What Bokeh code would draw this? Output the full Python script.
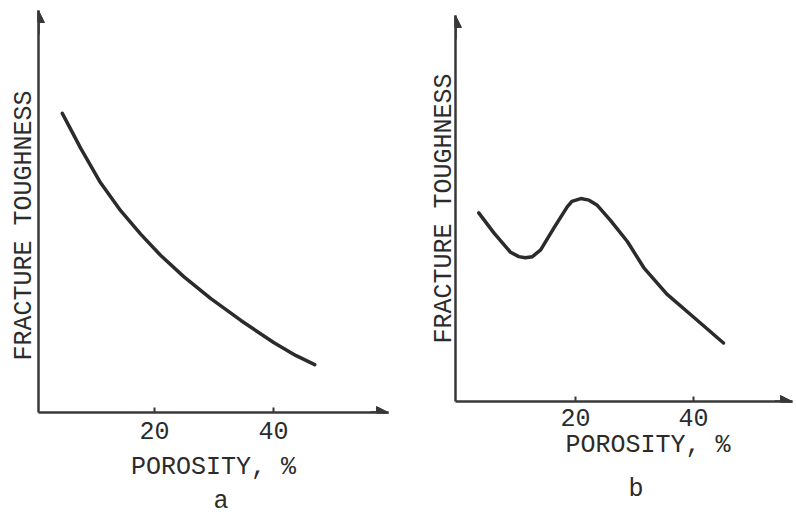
from bokeh.plotting import figure
from bokeh.layouts import row, column
from bokeh.models import Range1d, FixedTicker, Arrow, NormalHead, Title
from bokeh.embed import file_html
from bokeh.resources import INLINE

# ---- data (arbitrary toughness units) ----
porosity_a = [4.5, 7.6, 10.9, 14.3, 17.7, 21.0, 24.9, 29.4, 34.5, 40.0, 43.7, 46.9]
toughness_a = [74.4, 65.7, 57.2, 50.2, 44.3, 39.1, 33.8, 28.4, 22.9, 17.4, 14.2, 11.9]

porosity_b = [3.6, 6.2, 9.0, 10.4, 11.5, 12.7, 14.1, 16.3, 18.6, 19.4, 20.9, 22.3, 23.7,
              25.9, 28.8, 31.6, 35.5, 40.1, 45.1]
toughness_b = [47.4, 42.3, 37.5, 36.4, 36.1, 36.4, 38.1, 43.5, 48.9, 50.3, 51.0, 50.6, 49.3,
               45.6, 40.2, 33.6, 27.0, 21.1, 14.7]

x_ticks = [20, 40]
x_label = "POROSITY, %"
y_label = "FRACTURE TOUGHNESS"
panel_names = ["a", "b"]

FONT = "Liberation Mono"
FS = "25px"
INK = "#2b2b2b"
AXIS_INK = "#383838"


def make_title(text, offset, standoff):
    return Title(text=text, align="left", offset=offset, text_font=FONT,
                 text_font_size=FS, text_font_style="normal", text_color=INK,
                 standoff=standoff)


def make_panel(xs, ys, xr, yr, w, h, borders, tick_standoff, label_standoff,
               ylab, name, name_offset, name_standoff, xlab_title=None):
    bl, br, bt, bb = borders
    p = figure(width=w, height=h, x_range=Range1d(*xr), y_range=Range1d(*yr),
               output_backend="svg", toolbar_location=None,
               min_border_left=bl, min_border_right=br,
               min_border_top=bt, min_border_bottom=bb)
    p.outline_line_color = None
    p.grid.visible = False
    p.background_fill_color = "white"
    p.border_fill_color = "white"

    # x axis
    xa = p.xaxis[0]
    xa.ticker = FixedTicker(ticks=x_ticks)
    xa.minor_tick_line_color = None
    xa.major_tick_in = 5
    xa.major_tick_out = 0
    xa.major_tick_line_width = 2
    xa.major_tick_line_color = AXIS_INK
    xa.axis_line_width = 2.5
    xa.axis_line_color = AXIS_INK
    xa.major_label_text_font = FONT
    xa.major_label_text_font_size = FS
    xa.major_label_text_color = INK
    xa.major_label_standoff = tick_standoff
    if xlab_title is None:
        xa.axis_label = x_label
        xa.axis_label_text_font = FONT
        xa.axis_label_text_font_size = FS
        xa.axis_label_text_font_style = "normal"
        xa.axis_label_text_color = INK
        xa.axis_label_standoff = label_standoff
    else:
        p.add_layout(make_title(x_label, xlab_title, label_standoff), "below")

    # y axis
    ya = p.yaxis[0]
    ya.ticker = FixedTicker(ticks=[])
    ya.minor_tick_line_color = None
    ya.major_tick_out = 0
    ya.major_tick_in = 0
    ya.axis_line_width = 2.5
    ya.axis_line_color = AXIS_INK
    kind, val = ylab
    if kind == "axis":
        ya.axis_label = y_label
        ya.axis_label_text_font = FONT
        ya.axis_label_text_font_size = FS
        ya.axis_label_text_font_style = "normal"
        ya.axis_label_text_color = INK
        ya.axis_label_standoff = val
    else:
        p.add_layout(make_title(y_label, val, 0), "left")

    # arrow heads on the axes
    p.add_layout(Arrow(end=NormalHead(size=12, fill_color=AXIS_INK, line_color=AXIS_INK),
                       x_start=xr[0], y_start=yr[1] - 6, x_end=xr[0], y_end=yr[1],
                       line_width=2.5, line_color=AXIS_INK))
    p.add_layout(Arrow(end=NormalHead(size=12, fill_color=AXIS_INK, line_color=AXIS_INK),
                       x_start=xr[1] - 3, y_start=yr[0], x_end=xr[1], y_end=yr[0],
                       line_width=2.5, line_color=AXIS_INK))

    p.line(xs, ys, line_width=3.5, line_color=INK, line_cap="round", line_join="round")

    # panel letter
    p.add_layout(make_title(name, name_offset, name_standoff), "below")
    return p


pa = make_panel(porosity_a, toughness_a, (0.5, 59.3), (0, 100), 398, 516,
                (38, 10, 10, 104), 9, 11, ("title", 52), panel_names[0], 175, 0)
pb = make_panel(porosity_b, toughness_b, (-0.34, 56.8), (0, 97), 398, 516,
                (57, 4, 15, 111), 7, 0, ("axis", -3), panel_names[1], 173, 26,
                xlab_title=110)

layout = row(column(pa), column(pb))
open("out.html", "w").write(file_html(layout, INLINE))
